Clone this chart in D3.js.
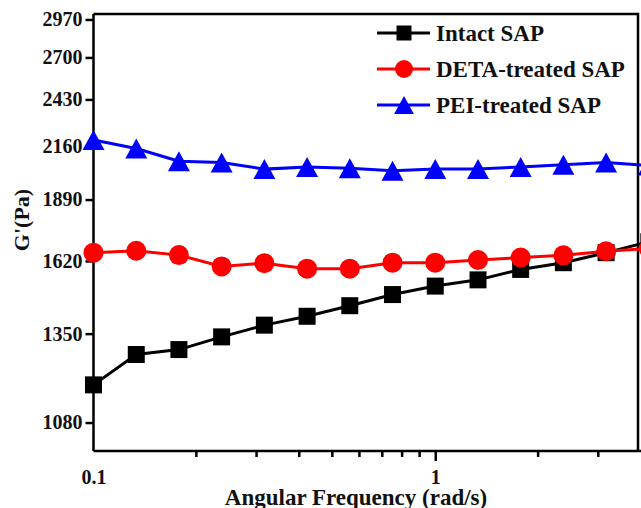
<!DOCTYPE html>
<html>
<head>
<meta charset="utf-8">
<script src="https://cdn.jsdelivr.net/npm/d3@7"></script>
<style>
  html, body { margin: 0; padding: 0; background: #fff; }
  svg { display: block; }
  text { font-family: "Liberation Serif", "Times New Roman", serif; font-weight: bold; fill: #111; }
</style>
</head>
<body>
<svg id="chart" width="641" height="508"></svg>
<script>
// ---- data ----
const frequency = [0.1, 0.1334, 0.1778, 0.2371, 0.3162, 0.4217, 0.5623, 0.7499, 1.0, 1.334, 1.778, 2.371, 3.162, 4.217];
const intactSAP = [1187, 1281, 1297, 1339, 1379, 1410, 1448, 1489, 1521, 1545, 1586, 1613, 1654, 1700];
const detaSAP   = [1654, 1662, 1644, 1598, 1611, 1589, 1589, 1613, 1613, 1624, 1634, 1643, 1660, 1671];
const peiSAP    = [2195, 2148, 2081, 2074, 2040, 2051, 2044, 2032, 2041, 2041, 2051, 2063, 2074, 2058];
const yTicks = [1080, 1350, 1620, 1890, 2160, 2430, 2700, 2970];
const xTicksMajor = [0.1, 1];
const xTicksMinor = [0.2, 0.3, 0.4, 0.5, 0.6, 0.7, 0.8, 0.9, 2, 3];
const seriesNames = ["Intact SAP", "DETA-treated SAP", "PEI-treated SAP"];
const seriesColors = ["#000000", "#ff0000", "#0000ff"];
const seriesShapes = ["square", "circle", "triangle"];

// ---- layout ----
const svg = d3.select("#chart");
const pLeft = 93.5, pRight = 638, pTop = 14, pBottom = 451;

const x = d3.scaleLog().domain([0.1, 3.92]).range([pLeft, pRight]);
const y = d3.scaleLog().domain([1005.5, 3011]).range([pBottom, pTop]);

function markerPath(shape, s) {
  if (shape === "square") return `M${-s/2},${-s/2}h${s}v${s}h${-s}Z`;
  if (shape === "triangle") { const h = s; const w = s * 1.1; return `M0,${-h/2}L${w/2},${h/2}L${-w/2},${h/2}Z`; }
  const r = s / 2;
  return `M${r},0A${r},${r} 0 1,1 ${-r},0A${r},${r} 0 1,1 ${r},0Z`;
}

// frame (top & right)
svg.append("path")
  .attr("d", `M${pLeft},${pTop}H${pRight}V${pBottom}`)
  .attr("fill", "none").attr("stroke", "#000").attr("stroke-width", 2.5);

// x axis
const xAxis = svg.append("g").attr("transform", `translate(0,${pBottom})`)
  .call(d3.axisBottom(x).tickValues(xTicksMajor).tickFormat(d3.format("")).tickSize(10).tickPadding(9));
xAxis.select(".domain").attr("stroke-width", 2.5).attr("d", `M${pLeft},0H641`);
xAxis.selectAll(".tick line").attr("stroke-width", 2.5);
xAxis.selectAll(".tick text").attr("font-size", 20).attr("font-family", null).attr("fill", "#111");
xAxis.selectAll(".tick").filter(d => d === 0.1).select("line").remove();
svg.append("g").selectAll("line").data(xTicksMinor).join("line")
  .attr("x1", d => x(d)).attr("x2", d => x(d))
  .attr("y1", pBottom).attr("y2", pBottom + 6)
  .attr("stroke", "#000").attr("stroke-width", 2.5);

// y axis
const yAxis = svg.append("g").attr("transform", `translate(${pLeft},0)`)
  .call(d3.axisLeft(y).tickValues(yTicks).tickFormat(d3.format("d")).tickSize(8).tickPadding(3));
yAxis.select(".domain").attr("stroke-width", 2.5).attr("d", `M0,${pTop}V${pBottom}`);
yAxis.selectAll(".tick line").attr("stroke-width", 2.5);
yAxis.selectAll(".tick text").attr("font-size", 20).attr("font-family", null).attr("fill", "#111");

// axis titles
svg.append("text").attr("x", 356).attr("y", 505).attr("text-anchor", "middle")
  .attr("font-size", 23).text("Angular Frequency (rad/s)");
svg.append("text").attr("transform", "translate(29,220) rotate(-90)").attr("text-anchor", "middle")
  .attr("font-size", 22).text("G'(Pa)");

// series
const allSeries = [intactSAP, detaSAP, peiSAP];
const line = d3.line().x(d => x(d[0])).y(d => y(d[1]));
const msize = [17, 20, 20];
allSeries.forEach((vals, k) => {
  const pts = frequency.map((f, i) => [f, vals[i]]);
  svg.append("path").datum(pts).attr("d", line)
    .attr("fill", "none").attr("stroke", seriesColors[k]).attr("stroke-width", 3);
  svg.append("g").selectAll("path").data(pts).join("path")
    .attr("transform", d => `translate(${x(d[0])},${y(d[1])})`)
    .attr("d", markerPath(seriesShapes[k], msize[k]))
    .attr("fill", seriesColors[k]);
});

// legend
const legY = [33, 69, 105];
seriesNames.forEach((name, k) => {
  const g = svg.append("g").attr("transform", `translate(0,${legY[k]})`);
  g.append("line").attr("x1", 377).attr("x2", 430).attr("y1", 0).attr("y2", 0)
    .attr("stroke", seriesColors[k]).attr("stroke-width", 3);
  g.append("path").attr("transform", "translate(404,0)")
    .attr("d", markerPath(seriesShapes[k], [15, 18, 18][k])).attr("fill", seriesColors[k]);
  g.append("text").attr("x", 436).attr("y", 8).attr("font-size", 23).text(name);
});
</script>
</body>
</html>
